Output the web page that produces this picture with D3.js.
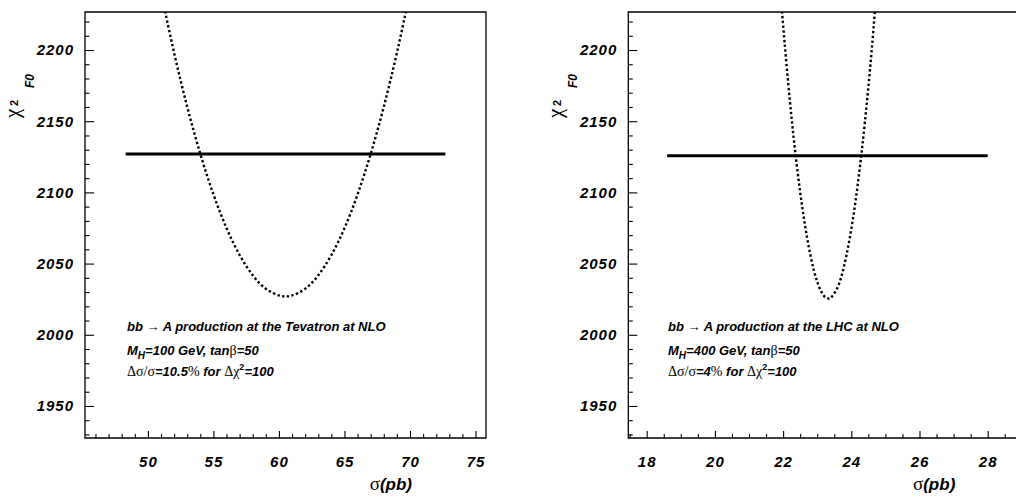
<!DOCTYPE html>
<html>
<head>
<meta charset="utf-8">
<script src="https://cdn.jsdelivr.net/npm/d3@7"></script>
<style>
body { margin: 0; background: #fff; }
svg { display: block; }
text { font-family: "Liberation Sans", Arial, sans-serif; font-weight: bold; font-style: italic; fill: #000; }
.sym { font-family: "Liberation Serif", "DejaVu Serif", serif; font-weight: normal; font-style: normal; }
</style>
</head>
<body>
<svg id="chart" width="1016" height="502"></svg>
<script>
// Tevatron panel: chi2 scan (dotted) and chi2_min + 100 level (solid)
var tevSigma = [51, 52, 53, 54, 55, 56, 57, 58, 59, 60, 60.5, 61, 62, 63, 64, 65, 66, 67, 68, 69, 70];
var tevChi2 = [2240.6, 2198.0, 2160.1, 2127.0, 2098.6, 2074.9, 2056.0, 2041.8, 2032.3, 2027.6, 2027.0,
               2027.6, 2032.3, 2041.8, 2056.0, 2074.9, 2098.6, 2127.0, 2160.1, 2198.0, 2240.6];
var tevLevelSigma = [48.3, 72.7];
var tevLevelChi2 = [2127, 2127];

// LHC panel
var lhcSigma = [21.9, 22.0, 22.2, 22.4, 22.6, 22.8, 23.0, 23.2, 23.33, 23.4, 23.6, 23.8, 24.0, 24.2, 24.4, 24.6, 24.8];
var lhcChi2 = [2247.4, 2217.4, 2164.0, 2119.3, 2083.3, 2056.0, 2037.3, 2027.3, 2025.5, 2026.0,
               2033.4, 2049.5, 2074.2, 2107.6, 2149.7, 2200.5, 2260.0];
var lhcLevelSigma = [18.6, 28.0];
var lhcLevelChi2 = [2125.8, 2125.8];

// tick labels
var yMajor = [1950, 2000, 2050, 2100, 2150, 2200];
var tevXMajor = [50, 55, 60, 65, 70, 75];
var lhcXMajor = [18, 20, 22, 24, 26, 28];

var svg = d3.select("#chart");

function drawPanel(p) {
    var x = d3.scaleLinear().domain(p.xDomain).range(p.xRange);
    var y = d3.scaleLinear().domain([1927.5, 2226.7]).range([438, 12]);
    var g = svg.append("g");

    var clipId = "clip" + p.id;
    g.append("clipPath").attr("id", clipId)
        .append("rect")
        .attr("x", p.xRange[0]).attr("y", 12)
        .attr("width", p.xRange[1] - p.xRange[0]).attr("height", 426);

    // minor ticks
    var yMinor = d3.range(1930, 2226, 10).filter(function (v) { return v % 50 !== 0; });
    g.append("g")
        .attr("transform", "translate(" + p.xRange[0] + ",0)")
        .call(d3.axisLeft(y).tickValues(yMinor).tickSize(-4.5).tickFormat(""));
    g.append("g")
        .attr("transform", "translate(0,438)")
        .call(d3.axisBottom(x).tickValues(p.xMinor).tickSize(-4).tickFormat(""));

    // major ticks with labels
    g.append("g")
        .attr("transform", "translate(" + p.xRange[0] + ",0)")
        .call(d3.axisLeft(y).tickValues(yMajor).tickFormat(d3.format("d"))
            .tickSize(-9).tickPadding(11));
    g.append("g")
        .attr("transform", "translate(0,438)")
        .call(d3.axisBottom(x).tickValues(p.xMajor).tickFormat(d3.format("d"))
            .tickSize(-7).tickPadding(18));

    g.selectAll(".domain").remove();
    g.selectAll(".tick line").attr("stroke", "#000").attr("stroke-width", 1.1);
    g.selectAll(".tick text")
        .style("font-family", "'Liberation Sans', Arial, sans-serif")
        .style("font-weight", "bold").style("font-style", "italic")
        .style("font-size", "15px").style("letter-spacing", "1px")
        .attr("fill", "#000");

    // frame
    g.append("path")
        .attr("d", "M" + p.xRange[0] + ",438V12H" + p.xRange[1] + "V438Z")
        .attr("fill", "none").attr("stroke", "#000").attr("stroke-width", 1.3);

    var line = d3.line()
        .x(function (d) { return x(d[0]); })
        .y(function (d) { return y(d[1]); });

    // level line
    g.append("path")
        .datum(d3.zip(p.levelSigma, p.levelChi2))
        .attr("d", line)
        .attr("fill", "none").attr("stroke", "#000").attr("stroke-width", 3);

    // chi2 scan
    g.append("path")
        .datum(d3.zip(p.sigma, p.chi2))
        .attr("clip-path", "url(#" + clipId + ")")
        .attr("d", line.curve(d3.curveNatural))
        .attr("fill", "none").attr("stroke", "#000")
        .attr("stroke-width", 2.4).attr("stroke-dasharray", "2.4,2.4");

    // y title: chi^2_F0
    var lx = p.xRange[0] - 66;
    g.append("text").attr("class", "sym")
        .attr("transform", "translate(" + lx + ",118) rotate(-90)")
        .style("font-size", "21px").text("\u03c7");
    g.append("text")
        .attr("transform", "translate(" + (lx - 1) + ",106) rotate(-90)")
        .style("font-size", "11px").style("font-style", "normal").text("2");
    g.append("text")
        .attr("transform", "translate(" + (lx + 15) + ",88) rotate(-90)")
        .style("font-size", "12px").text("F0");

    // x title: sigma(pb)
    var xt = g.append("text")
        .attr("x", p.xRange[1] - 74).attr("y", 490)
        .attr("text-anchor", "end").style("font-size", "17px");
    xt.append("tspan").attr("class", "sym").style("font-size", "19px").text("\u03c3");
    xt.append("tspan").text("(pb)");

    // annotation
    var tx = p.textX;
    var t1 = g.append("text").attr("x", tx).attr("y", 331).style("font-size", "13px");
    t1.append("tspan").text("bb ");
    t1.append("tspan").attr("class", "sym").text("\u2192");
    t1.append("tspan").text(" A production at the " + p.machine + " at NLO");

    var t2 = g.append("text").attr("x", tx).attr("y", 355).style("font-size", "13px");
    t2.append("tspan").text("M");
    t2.append("tspan").attr("dy", 4).style("font-size", "10px").text("H");
    t2.append("tspan").attr("dy", -4).text("=" + p.mass + " GeV, tan");
    t2.append("tspan").attr("class", "sym").style("font-size", "14px").text("\u03b2");
    t2.append("tspan").text("=50");

    var t3 = g.append("text").attr("x", tx).attr("y", 376).style("font-size", "13px");
    t3.append("tspan").attr("class", "sym").style("font-size", "14px").text("\u0394\u03c3/\u03c3");
    t3.append("tspan").text("=" + p.precision);
    t3.append("tspan").attr("class", "sym").style("font-size", "14px").text("%");
    t3.append("tspan").text(" for  ");
    t3.append("tspan").attr("class", "sym").style("font-size", "14px").text("\u0394\u03c7");
    t3.append("tspan").attr("dy", -6).style("font-size", "9px").style("font-style", "normal").text("2");
    t3.append("tspan").attr("dy", 6).text("=100");
}

drawPanel({
    id: "tev", xDomain: [45.2, 75.8], xRange: [85, 486],
    xMajor: tevXMajor,
    xMinor: d3.range(46, 76, 1).filter(function (v) { return v % 5 !== 0; }),
    sigma: tevSigma, chi2: tevChi2, levelSigma: tevLevelSigma, levelChi2: tevLevelChi2,
    textX: 127, machine: "Tevatron", mass: "100", precision: "10.5"
});

drawPanel({
    id: "lhc", xDomain: [17.46, 29.22], xRange: [628.3, 1029.3],
    xMajor: lhcXMajor,
    xMinor: d3.range(17.5, 29.25, 0.5).filter(function (v) { return v % 2 !== 0; }),
    sigma: lhcSigma, chi2: lhcChi2, levelSigma: lhcLevelSigma, levelChi2: lhcLevelChi2,
    textX: 668, machine: "LHC", mass: "400", precision: "4"
});
</script>
</body>
</html>
